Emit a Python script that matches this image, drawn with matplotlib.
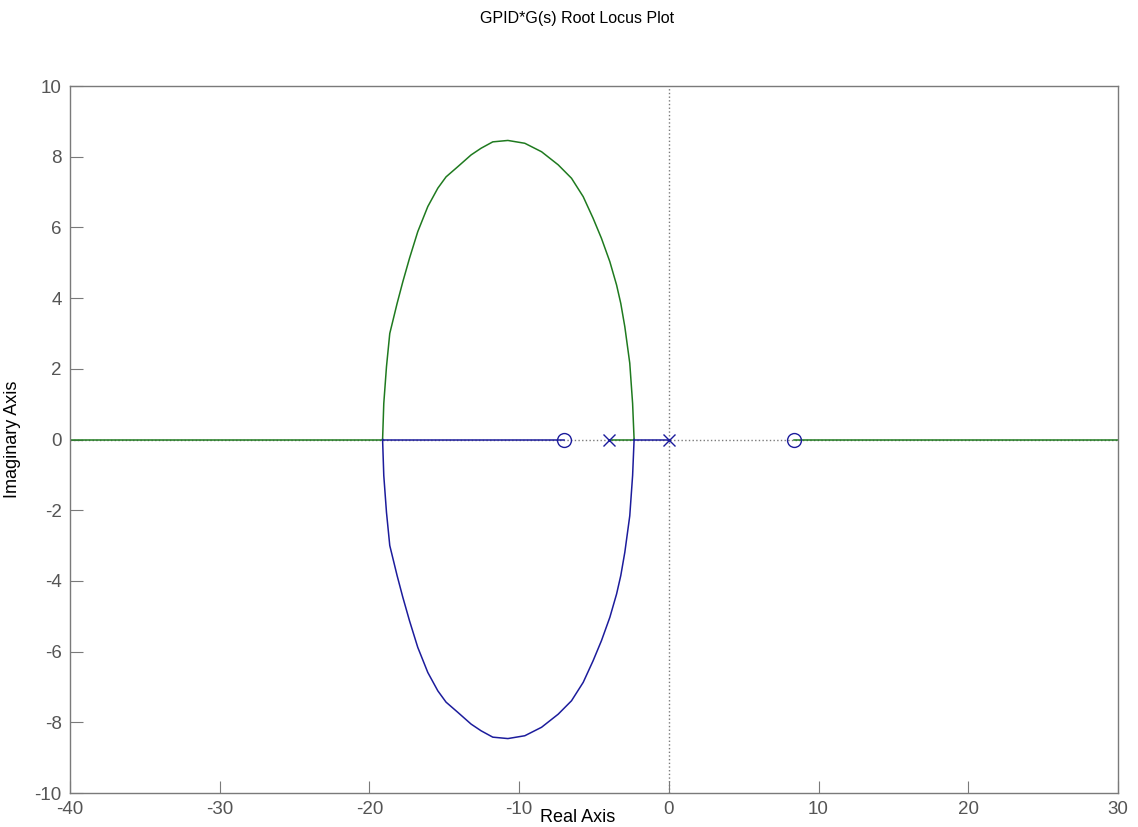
import numpy as np
import matplotlib.pyplot as plt

plt.rcParams['font.family'] = ['Liberation Sans', 'DejaVu Sans']
plt.rcParams['axes.unicode_minus'] = False

# open-loop poles and zeros
poles = [0.0, -4.0]
zeros = [-7.0, 8.35]

# breakaway / break-in points on the real axis
breakaway = -2.32
breakin = -19.12

# upper complex branch (lower one is its conjugate)
arc_re = [-19.12, -19.04, -18.86, -18.64, -18.15, -17.77, -17.32, -16.77, -16.10,
          -15.43, -14.88, -14.09, -13.21, -12.54, -11.76, -10.75, -9.62, -8.50,
          -7.39, -6.50, -5.72, -5.06, -4.50, -3.94, -3.49, -3.21, -2.94, -2.61,
          -2.42, -2.32]
arc_im = [0.0, 1.02, 2.06, 3.00, 3.85, 4.46, 5.13, 5.88, 6.59,
          7.11, 7.43, 7.72, 8.05, 8.24, 8.42, 8.46, 8.38, 8.14,
          7.77, 7.39, 6.87, 6.26, 5.69, 5.03, 4.37, 3.85, 3.19, 2.16,
          1.02, 0.0]

xlim = (-40, 30)
ylim = (-10, 10)

blue = '#1c1c9c'
green = '#1f7a1f'
gray = '#7a7a7a'

fig = plt.figure(figsize=(11.38, 8.27), dpi=100)
ax = fig.add_axes([0.0615, 0.0411, 0.9209, 0.8549])

# dotted axis lines
ax.axhline(0, color=gray, ls=':', lw=1.0, zorder=1)
ax.axvline(0, color=gray, ls=':', lw=1.0, zorder=1)

arc_re = np.array(arc_re)
arc_im = np.array(arc_im)

# branch 1 (green): pole -4 -> breakaway -> upper arc -> -inf, then +inf -> zero 8.35
ax.plot([poles[1], breakaway], [0, 0], color=green, lw=1.1, zorder=2)
ax.plot(arc_re, arc_im, color=green, lw=1.1, zorder=2)
ax.plot([breakin, xlim[0]], [0, 0], color=green, lw=1.1, zorder=2)
ax.plot([zeros[1], xlim[1]], [0, 0], color=green, lw=1.1, zorder=2)

# branch 2 (blue): pole 0 -> breakaway -> lower arc -> break-in -> zero -7
ax.plot([poles[0], breakaway], [0, 0], color=blue, lw=1.1, zorder=3)
ax.plot(arc_re, -arc_im, color=blue, lw=1.1, zorder=3)
ax.plot([breakin, zeros[0]], [0, 0], color=blue, lw=1.1, zorder=3)

ax.plot(poles, [0] * len(poles), 'x', color=blue, ms=8, mew=1.0, zorder=4)
ax.plot(zeros, [0] * len(zeros), 'o', color=blue, ms=10, mew=1.0,
        mfc='none', zorder=4)

ax.set_xlim(*xlim)
ax.set_ylim(*ylim)
ax.set_xticks(np.arange(-40, 31, 10))
ax.set_yticks(np.arange(-10, 11, 2))
ax.tick_params(direction='in', length=9, width=0.8, colors=gray,
               labelcolor='#555555', labelsize=13.5, pad=6)
for s in ax.spines.values():
    s.set_color(gray)
    s.set_linewidth(1.0)

ax.set_xlabel('Real Axis', fontsize=13)
ax.xaxis.set_label_coords(0.484, -0.022)
ax.set_ylabel('Imaginary Axis', fontsize=13)
ax.yaxis.set_label_coords(-0.047, 0.5)

fig.text(0.507, 0.978, 'GPID*G(s) Root Locus Plot', ha='center', va='center',
         fontsize=11.5)

fig.savefig('out.png', dpi=100)
